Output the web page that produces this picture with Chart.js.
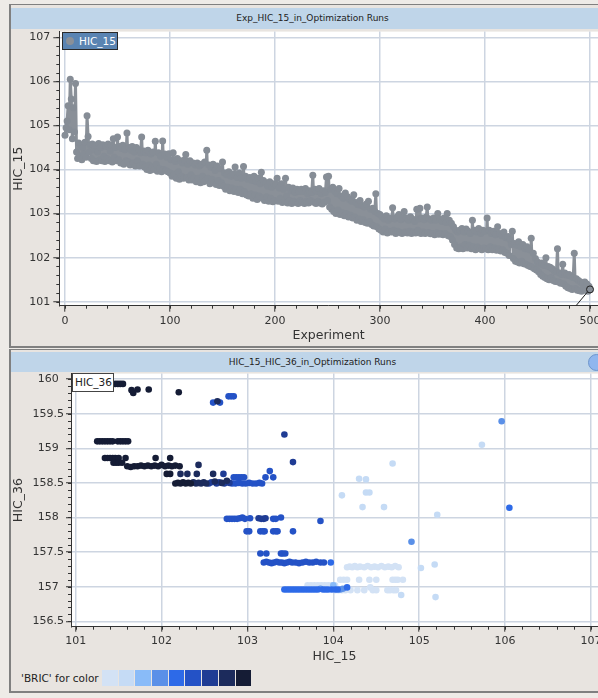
<!DOCTYPE html>
<html>
<head>
<meta charset="utf-8">
<script src="https://cdn.jsdelivr.net/npm/chart.js@4.4.0/dist/chart.umd.min.js"></script>
<style>
  html, body { margin: 0; padding: 0; width: 598px; height: 698px; overflow: hidden; background: #eeebe7; font-family: 'DejaVu Sans', sans-serif; }
  .panel { position: absolute; left: 9px; width: 640px; background: #e8e4e0; box-sizing: border-box;
           border-left: 2px solid #808080; border-top: 1px solid #808080; border-bottom: 2px solid #808080; }
  .titlebar { position: absolute; left: 11px; width: 603px; background: #bfd5e9; color: #222; font-size: 9px; text-align: center; z-index: 3; }
  canvas { position: absolute; z-index: 1; }
  .legbox { position: absolute; z-index: 4; box-sizing: border-box; font-size: 10.5px; }
  #leg1 { left: 62px; top: 32px; width: 56px; height: 18px; background: #5a84b2; border: 1px solid #2a2a2a; color: #fff; line-height: 16px; padding-left: 16px; }
  #leg1 span { position: absolute; left: 3px; top: 4px; width: 8px; height: 8px; border-radius: 50%; background: #8a9098; }
  #leg2 { left: 72px; top: 373px; width: 42px; height: 19px; background: #fff; border: 1px solid #444; color: #222; line-height: 17px; padding-left: 2px; }
  #colorLegend { position: absolute; left: 21px; top: 670px; height: 16px; font-size: 10.5px; color: #222; line-height: 16px; z-index: 4; }
  #swatches { position: absolute; left: 81px; top: 0; height: 16px; white-space: nowrap; }
  #swatches div { display: inline-block; width: 15.7px; height: 16px; margin-right: 1px; }
  #knob { position: absolute; left: 588px; top: 354px; width: 15px; height: 15px; border-radius: 50%; background: #8fb6ee; border: 1px solid #6d95cc; z-index: 4; }
</style>
</head>
<body>
<div class="panel" style="top:4px;height:344px;"></div>
<div class="titlebar" style="top:8px;height:21px;line-height:21px;">Exp_HIC_15_in_Optimization Runs</div>
<canvas id="runChart"></canvas>
<div class="legbox" id="leg1"><span></span>HIC_15</div>

<div class="panel" style="top:349px;height:344px;"></div>
<div class="titlebar" style="top:352px;height:20px;line-height:20px;">HIC_15_HIC_36_in_Optimization Runs</div>
<div id="knob"></div>
<canvas id="scatterChart"></canvas>
<div class="legbox" id="leg2">HIC_36</div>
<div id="colorLegend">'BRIC' for color<div id="swatches"></div></div>

<script>
// HIC_15 per experiment (0..500)
const hic15Runs = [
  104.78, 104.95, 105.10, 105.45, 104.90, 106.05, 105.60, 104.70, 105.40, 104.85, 105.95, 104.40, 104.25, 104.60, 104.30, 104.55, 104.22, 104.50, 104.35, 104.62, 104.28, 105.22, 104.75, 104.40, 104.55,
  104.25, 104.58, 104.20, 104.45, 104.55, 104.18, 104.40, 104.59, 104.22, 104.50, 104.20, 104.56, 104.30, 104.18, 104.52, 104.25, 104.58, 104.20, 104.42, 104.55, 104.17, 104.70, 104.28, 104.50, 104.20,
  104.74, 104.22, 104.52, 104.15, 104.48, 104.55, 104.12, 104.45, 104.20, 104.83, 104.18, 104.50, 104.10, 104.44, 104.52, 104.15, 104.40, 104.08, 104.50, 104.20, 104.45, 104.08, 104.38, 104.74, 104.12,
  104.42, 104.05, 104.38, 104.00, 104.44, 104.10, 103.98, 104.35, 104.05, 104.40, 104.00, 104.64, 104.12, 103.96, 104.38, 104.02, 104.30, 103.95, 104.65, 104.00, 104.35, 103.98, 104.28, 103.95, 104.36,
  103.92, 104.22, 103.85, 104.38, 103.90, 104.18, 103.80, 104.25, 103.95, 103.78, 104.20, 103.85, 104.15, 103.80, 104.22, 104.34, 103.82, 104.12, 103.76, 104.20, 103.88, 103.76, 104.15, 103.80, 104.10,
  103.72, 104.15, 103.80, 104.08, 103.70, 104.12, 103.85, 103.72, 104.17, 103.75, 104.44, 103.80, 104.10, 103.68, 104.05, 103.78, 104.12, 103.70, 103.98, 103.66, 104.08, 103.75, 103.64, 104.02, 103.70,
  104.17, 103.62, 103.92, 103.55, 103.88, 103.60, 103.95, 103.52, 103.85, 103.58, 103.90, 103.50, 104.06, 103.55, 103.82, 103.48, 103.92, 103.55, 103.80, 103.45, 104.07, 103.50, 103.85, 103.42, 103.78,
  103.40, 103.82, 103.45, 103.75, 103.35, 103.85, 103.42, 103.72, 103.32, 103.80, 103.40, 103.68, 103.94, 103.35, 103.75, 103.30, 103.70, 103.38, 103.62, 103.28, 103.72, 103.35, 103.60, 103.27, 103.68,
  103.30, 103.65, 103.80, 103.28, 103.58, 103.35, 103.68, 103.25, 103.55, 103.30, 103.80, 103.40, 103.24, 103.60, 103.30, 103.52, 103.23, 103.58, 103.28, 103.48, 103.25, 103.55, 103.23, 103.50, 103.30,
  103.55, 103.25, 103.50, 103.23, 103.57, 103.28, 103.45, 103.24, 103.52, 103.30, 103.48, 103.87, 103.26, 103.55, 103.23, 103.50, 103.28, 103.57, 103.24, 103.45, 103.22, 103.52, 103.26, 103.48, 103.83,
  103.30, 103.85, 103.15, 103.55, 103.10, 103.60, 103.05, 103.50, 103.00, 103.45, 103.08, 103.57, 102.98, 103.40, 103.02, 103.35, 102.95, 103.47, 103.00, 103.38, 102.92, 103.32, 102.96, 103.28, 102.90,
  103.43, 102.92, 103.25, 102.85, 103.20, 102.88, 103.30, 102.82, 103.18, 102.86, 103.15, 102.80, 103.22, 102.78, 103.28, 102.82, 103.10, 102.75, 103.12, 102.72, 103.05, 103.45, 102.70, 103.00, 102.65,
  102.98, 102.62, 102.92, 102.58, 102.88, 102.65, 102.95, 102.56, 102.85, 102.60, 102.90, 102.58, 103.13, 102.62, 102.88, 102.55, 102.92, 102.60, 102.98, 102.57, 102.86, 102.55, 102.90, 103.05, 102.58,
  102.90, 102.56, 102.85, 102.60, 102.93, 102.55, 102.88, 102.58, 102.82, 102.56, 103.10, 102.62, 102.88, 103.12, 102.55, 102.90, 102.58, 102.86, 102.55, 102.92, 103.15, 102.57, 102.88, 102.54, 102.85,
  102.55, 102.90, 102.52, 102.85, 102.56, 103.00, 102.53, 102.88, 102.55, 102.82, 102.52, 102.90, 102.55, 102.80, 103.00, 102.50, 102.85, 102.48, 102.78, 102.40, 102.70, 102.30, 102.62, 102.22, 102.58,
  102.20, 102.62, 102.25, 102.66, 102.20, 102.58, 102.30, 102.65, 102.22, 102.60, 102.28, 102.55, 102.20, 102.85, 102.25, 102.62, 102.18, 102.58, 102.24, 102.66, 102.20, 102.55, 102.18, 102.62, 102.22,
  102.60, 102.20, 102.90, 102.18, 102.62, 102.25, 102.55, 102.18, 102.60, 102.22, 102.52, 102.17, 102.70, 102.20, 102.55, 102.15, 102.50, 102.18, 102.58, 102.12, 102.45, 102.10, 102.48, 102.05, 102.40,
  102.30, 102.60, 101.98, 102.32, 101.92, 102.28, 101.90, 102.36, 101.88, 102.25, 101.92, 102.30, 101.86, 102.20, 101.85, 102.25, 101.82, 102.18, 101.80, 102.44, 101.78, 102.10, 101.75, 101.98, 101.72,
  101.90, 101.68, 101.85, 101.62, 101.88, 101.58, 101.82, 101.55, 102.00, 101.52, 101.80, 101.50, 101.78, 101.55, 101.75, 101.48, 101.70, 101.46, 101.68, 102.20, 101.45, 101.65, 101.42, 101.62, 101.85,
  101.40, 101.65, 101.35, 101.60, 101.32, 101.62, 101.30, 101.58, 101.28, 101.55, 102.10, 101.30, 101.52, 101.26, 101.48, 101.25, 101.45, 101.24, 101.42, 101.30, 101.45, 101.26, 101.40, 101.24, 101.35, 101.28
];

const expTicks = [0, 100, 200, 300, 400, 500];
const hic15Ticks = [101, 102, 103, 104, 105, 106, 107];
const scatterXTicks = [101, 102, 103, 104, 105, 106, 107];
const scatterYTicks = [156.5, 157, 157.5, 158, 158.5, 159, 159.5, 160];

// BRIC colour bins, light -> dark
const bricColors = ['#d3e2f5', '#c5dbf5', '#89bbf8', '#5a90e8', '#2d6ae8', '#2452c6', '#1f3c94', '#1c2b5c', '#151c35'];

// [HIC_15, HIC_36] points per BRIC bin
const bricBin1 = [
  [103.70,157.02],[103.74,157.02],[103.78,157.02],[103.82,157.02],[103.86,157.02],[103.90,157.02],[103.94,157.02],[103.98,157.02],[104.02,157.02],
  [104.16,157.28],[104.19,157.29],[104.22,157.28],[104.25,157.30],[104.28,157.28],[104.31,157.29],[104.36,157.28],[104.40,157.30],[104.44,157.28],
  [104.48,157.29],[104.52,157.28],[104.56,157.30],[104.60,157.28],[104.64,157.29],[104.68,157.28],[104.72,157.30],[104.76,157.28],
  [104.08,157.10],[104.12,157.10],[104.16,157.10],[104.30,157.10],[104.42,157.10],[104.50,157.10],[104.69,157.10],[104.72,157.10],[104.75,157.10],[104.81,157.10],
  [104.02,156.95],[104.06,156.95],[104.10,156.95],[104.14,156.95],[104.20,156.95],[104.28,156.95],[104.36,156.95],[104.43,156.99],[104.46,156.95],
  [104.50,156.95],[104.63,156.95],[104.66,156.95],[104.70,156.95],[104.73,156.95]
];
const bricBin2 = [
  [105.73,159.05],[104.69,158.78],[104.30,158.56],[104.38,158.55],[104.10,158.32],[104.38,158.36],[104.42,158.36],
  [104.34,158.15],[104.59,158.15],[105.21,158.04],[105.02,157.27],[105.18,157.32],[105.19,156.85],[104.79,156.88]
];
const bricBin3 = [[104.00,157.02]];
const bricBin4 = [[105.96,159.39],[104.91,157.65],[103.85,156.97],[104.08,156.96],[104.11,156.97]];
const bricBin5 = [
  [103.43,156.96],[103.46,156.96],[103.49,156.96],[103.52,156.96],[103.55,156.96],[103.58,156.96],[103.61,156.96],[103.64,156.96],[103.67,156.96],[103.70,156.96],
  [103.73,156.96],[103.76,156.96],[103.79,156.96],[103.82,156.96],[103.88,156.96],[103.91,156.96],[103.94,156.96],[103.98,156.96],[104.02,156.96],[104.05,156.96],
  [104.16,156.99],[103.97,157.35],[106.05,158.14]
];
const bricBin6 = [
  [102.60,159.66],[102.68,159.66],[102.78,159.75],[102.81,159.75],[102.84,159.75],
  [102.84,158.58],[102.87,158.58],[102.90,158.58],[102.93,158.58],[102.96,158.58],[103.21,158.58],[103.26,158.67],[103.30,158.58],
  [102.82,158.49],[102.86,158.49],[102.90,158.50],[102.94,158.49],[102.98,158.49],[103.02,158.50],[103.06,158.49],[103.10,158.49],[103.14,158.50],[103.17,158.49],
  [102.76,157.98],[102.79,157.98],[102.82,157.98],[102.85,157.98],[102.88,157.98],[102.91,157.99],[102.94,158.00],[102.97,157.98],[103.03,157.99],
  [103.30,157.98],[103.33,157.98],[103.39,158.00],[103.85,157.95],
  [102.99,157.80],[103.02,157.80],[103.15,157.80],[103.18,157.80],[103.20,157.80],[103.30,157.80],[103.33,157.80],[103.35,157.80],[103.53,157.80],
  [103.15,157.48],[103.22,157.48],[103.39,157.48],[103.41,157.48],[103.44,157.48],
  [103.19,157.35],[103.22,157.36],[103.25,157.35],[103.28,157.34],[103.31,157.35],[103.34,157.36],[103.37,157.35],[103.40,157.35],[103.43,157.34],[103.46,157.35],
  [103.49,157.36],[103.52,157.35],[103.56,157.35],[103.60,157.34],[103.64,157.35],[103.68,157.36],[103.72,157.35],[103.76,157.35],[103.80,157.36],[103.85,157.35],[103.89,157.35]
];
const bricBin7 = [
  [102.55,158.49],[102.58,158.51],[102.64,158.49],[102.67,158.51],[102.73,158.49],[102.79,158.50],[102.72,158.63],
  [103.43,159.20],[103.53,158.80],[103.13,157.99],[103.16,157.98],[103.19,157.98],[103.21,157.99]
];
const bricBin8 = [
  [102.37,158.51],[102.40,158.49],[102.43,158.50],[102.46,158.49],[102.49,158.51],[102.52,158.49],[102.62,158.52],[102.70,158.50],[102.76,158.53],
  [102.22,158.63],[102.30,158.63],[102.41,158.63],[102.60,158.63],[102.43,158.76],[102.65,159.68]
];
const bricBin9 = [
  [101.46,159.93],[101.49,159.93],[101.52,159.93],[101.55,159.93],
  [101.65,159.84],[101.67,159.80],[101.72,159.85],[101.85,159.85],[102.20,159.81],
  [101.25,159.10],[101.28,159.10],[101.31,159.10],[101.34,159.10],[101.37,159.10],[101.40,159.10],[101.43,159.10],
  [101.49,159.10],[101.52,159.10],[101.55,159.10],[101.58,159.10],[101.61,159.10],
  [101.34,158.86],[101.37,158.86],[101.40,158.86],[101.43,158.86],[101.46,158.86],[101.50,158.86],[101.58,158.86],[101.93,158.86],[102.10,158.86],
  [101.44,158.79],[101.47,158.79],[101.50,158.79],[101.54,158.79],
  [101.60,158.74],[101.64,158.73],[101.68,158.74],[101.72,158.74],[101.76,158.75],[101.80,158.74],[101.84,158.75],[101.88,158.74],
  [101.92,158.75],[101.96,158.74],[102.00,158.76],[102.04,158.74],[102.08,158.75],[102.12,158.74],[102.16,158.75],[102.21,158.74],
  [102.06,158.63],[102.10,158.63],
  [102.16,158.49],[102.19,158.50],[102.22,158.49],[102.25,158.51],[102.28,158.49],[102.31,158.50],[102.34,158.49]
];
const bricBins = [bricBin1, bricBin2, bricBin3, bricBin4, bricBin5, bricBin6, bricBin7, bricBin8, bricBin9];

const FONT = "'DejaVu Sans', sans-serif";
const tickFont = { family: FONT, size: 11 };
const titleFont = { family: FONT, size: 12.5 };

// white plot area
const plotBg = {
  id: 'plotBg',
  beforeDraw(chart) {
    const { ctx, chartArea: a } = chart;
    ctx.save();
    ctx.fillStyle = '#ffffff';
    ctx.fillRect(a.left, a.top, a.right - a.left, a.bottom - a.top);
    ctx.restore();
  }
};

// short minor ticks between the labelled ones
const minorTicks = {
  id: 'minorTicks',
  afterDraw(chart, args, opts) {
    const ctx = chart.ctx;
    ctx.save();
    ctx.strokeStyle = '#333';
    ctx.lineWidth = 1;
    (opts.list || []).forEach(m => {
      const sc = chart.scales[m.axis];
      for (let i = 0; ; i++) {
        const v = m.from + i * m.step;
        if (v > m.to + 1e-9) break;
        const p = Math.round(sc.getPixelForValue(v)) + 0.5;
        ctx.beginPath();
        if (m.axis === 'x') { ctx.moveTo(p, sc.top); ctx.lineTo(p, sc.top + m.len); }
        else { ctx.moveTo(sc.right, p); ctx.lineTo(sc.right - m.len, p); }
        ctx.stroke();
      }
    });
    ctx.restore();
  }
};

// selection marker on the last run
const endMark = {
  id: 'endMark',
  afterDatasetsDraw(chart) {
    const meta = chart.getDatasetMeta(0);
    const pt = meta.data[meta.data.length - 1];
    const ctx = chart.ctx;
    ctx.save();
    ctx.strokeStyle = '#222';
    ctx.lineWidth = 1;
    ctx.beginPath(); ctx.arc(pt.x, pt.y, 3.5, 0, Math.PI * 2); ctx.stroke();
    ctx.beginPath(); ctx.moveTo(pt.x - 2.5, pt.y + 2.5); ctx.lineTo(pt.x - 14, chart.chartArea.bottom); ctx.stroke();
    ctx.restore();
  }
};

function axisCommon(tickList, extra) {
  return Object.assign({
    type: 'linear',
    afterBuildTicks: (s) => { s.ticks = tickList.map(v => ({ value: v })); },
    ticks: { font: tickFont, color: '#333', autoSkip: false, maxRotation: 0, callback: (v) => String(+(+v).toFixed(1)) },
    grid: { color: '#cdd5e1', lineWidth: 1.5, tickColor: '#333', tickLength: 6, tickWidth: 1 },
    border: { display: true, color: '#333', width: 1 },
  }, extra);
}

// --- top: HIC_15 by experiment
const c1 = document.getElementById('runChart');
c1.style.left = '11px'; c1.style.top = '22px';
c1.width = 599; c1.height = 323;
c1.style.width = '599px'; c1.style.height = '323px';

new Chart(c1, {
  type: 'line',
  data: {
    datasets: [{
      label: 'HIC_15',
      data: hic15Runs.map((v, i) => ({ x: i, y: v })),
      borderColor: '#8a9098',
      backgroundColor: '#8a9098',
      borderWidth: 3,
      borderJoinStyle: 'round',
      pointRadius: 3.5,
      pointBorderWidth: 0,
      pointBackgroundColor: '#868d96',
      tension: 0
    }]
  },
  options: {
    responsive: false,
    animation: false,
    layout: { padding: { top: 8, right: 12, bottom: 0, left: 0 } },
    plugins: {
      legend: { display: false },
      tooltip: { enabled: false },
      minorTicks: { list: [
        { axis: 'x', from: 0, to: 500, step: 20, len: 3 },
        { axis: 'y', from: 101, to: 107, step: 0.2, len: 3 }
      ] }
    },
    scales: {
      x: axisCommon(expTicks, {
        min: -5.43, max: 507.6,
        afterFit: (s) => { s.height = 39.3; },
        title: { display: true, text: 'Experiment', font: titleFont, color: '#333', padding: { top: 0, bottom: 2 } },
      }),
      y: axisCommon(hic15Ticks, {
        min: 100.91, max: 107.13,
        afterFit: (s) => { s.width = 48.3; },
        title: { display: true, text: 'HIC_15', font: titleFont, color: '#333', padding: { top: 0, bottom: 0 } },
      })
    }
  },
  plugins: [plotBg, minorTicks, endMark]
});

// --- bottom: HIC_36 vs HIC_15 coloured by BRIC
const sw = document.getElementById('swatches');
bricColors.forEach(col => { const d = document.createElement('div'); d.style.background = col; sw.appendChild(d); });

const c2 = document.getElementById('scatterChart');
c2.style.left = '11px'; c2.style.top = '365px';
c2.width = 599; c2.height = 301;
c2.style.width = '599px'; c2.style.height = '301px';

const scatterSets = [];
for (let b = bricBins.length - 1; b >= 0; b--) {
  scatterSets.push({
    label: 'BRIC ' + (b + 1),
    data: bricBins[b].map(p => ({ x: p[0], y: p[1] })),
    backgroundColor: bricColors[b],
    pointRadius: 3.3,
    pointBorderWidth: 0
  });
}

new Chart(c2, {
  type: 'scatter',
  data: { datasets: scatterSets },
  options: {
    responsive: false,
    animation: false,
    layout: { padding: { top: 8, right: 12, bottom: 0, left: 0 } },
    plugins: {
      legend: { display: false },
      tooltip: { enabled: false },
      minorTicks: { list: [
        { axis: 'x', from: 101, to: 107, step: 0.2, len: 3 },
        { axis: 'y', from: 156.5, to: 160, step: 0.1, len: 3 }
      ] }
    },
    scales: {
      x: axisCommon(scatterXTicks, {
        min: 100.945, max: 107.082,
        afterFit: (s) => { s.height = 39.3; },
        grid: { color: '#cdd5e1', lineWidth: 1.5, tickColor: '#333', tickLength: 5, tickWidth: 1 },
        ticks: { font: tickFont, color: '#333', autoSkip: false, maxRotation: 0, padding: 3, callback: (v) => String(+(+v).toFixed(1)) },
        title: { display: true, text: 'HIC_15', font: titleFont, color: '#333', padding: { top: 0, bottom: 2 } },
      }),
      y: axisCommon(scatterYTicks, {
        min: 156.422, max: 160.079,
        afterFit: (s) => { s.width = 60; },
        grid: { color: '#cdd5e1', lineWidth: 1.5, tickColor: '#333', tickLength: 5, tickWidth: 1 },
        ticks: { font: tickFont, color: '#333', autoSkip: false, crossAlign: 'center', padding: 2, callback: (v) => String(+(+v).toFixed(1)) },
        title: { display: true, text: 'HIC_36', font: titleFont, color: '#333', padding: { top: 0, bottom: 0 } },
      })
    }
  },
  plugins: [plotBg, minorTicks]
});
</script>
</body>
</html>
